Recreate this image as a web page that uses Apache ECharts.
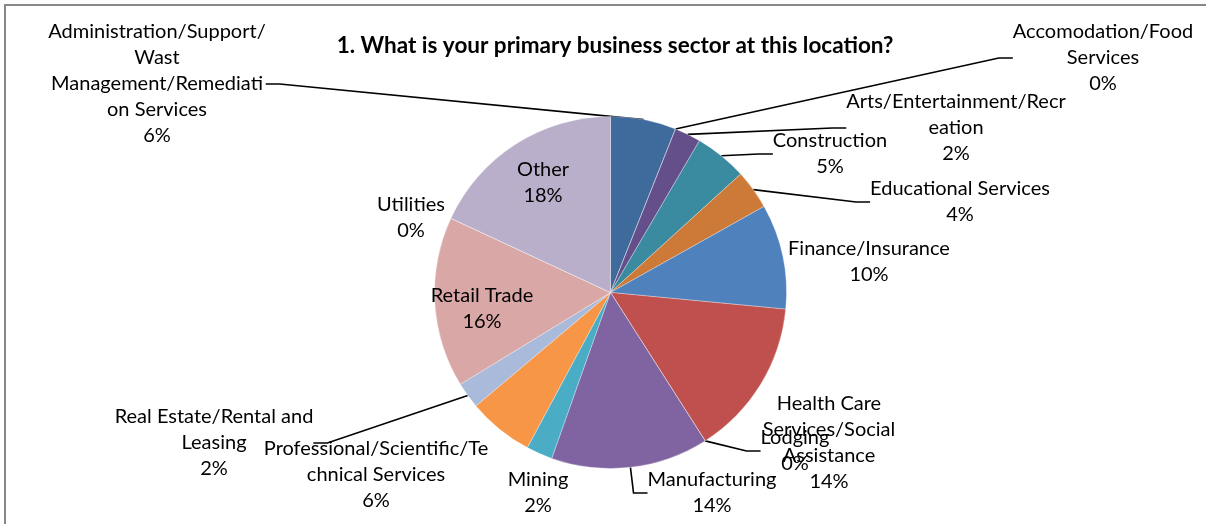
<!DOCTYPE html>
<html>
<head>
<meta charset="utf-8">
<title>Primary business sector</title>
<script src="https://cdn.jsdelivr.net/npm/echarts@6/dist/echarts.min.js"></script>
<style>
  html, body { margin: 0; padding: 0; background: #fff; }
  #chart { width: 1206px; height: 524px; }
</style>
</head>
<body>
<div id="chart"></div>
<script>
// categories, wrapped the way the labels appear
var sectors = [
  "Administration/Support/\nWast\nManagement/Remediati\non Services",
  "Accomodation/Food\nServices",
  "Arts/Entertainment/Recr\neation",
  "Construction",
  "Educational Services",
  "Finance/Insurance",
  "Health Care\nServices/Social\nAssistance",
  "Lodging",
  "Manufacturing",
  "Mining",
  "Professional/Scientific/Te\nchnical Services",
  "Real Estate/Rental and\nLeasing",
  "Retail Trade",
  "Utilities",
  "Other"
];
// number of responses per sector
var responses = [5, 0, 2, 4, 3, 8, 12, 0, 12, 2, 5, 2, 13, 0, 15];

var sliceColors = [
  "#3f6a9c", "#9c3f3c", "#654f8a", "#3a8ba0", "#cd7a38",
  "#4f81bd", "#c0504d", "#9bbb59", "#8064a2", "#4bacc6",
  "#f79646", "#aabada", "#d9a7a6", "#c3d69b", "#b9afca"
];
// which labels keep a leader line
var withLine = [true, true, true, true, true, false, false, true, true, false, false, true, false, false, false];
// label centres (layout only)
var labelSpots = [
  [157, 84], [1103, 58], [956, 128], [830, 154], [960, 202],
  [869, 262], [829, 443], [795, 451], [712, 493], [538, 493],
  [376, 475], [214, 443], [482, 309], [411, 218], [543, 183]
];

var total = responses.reduce(function (a, b) { return a + b; }, 0);

var pieData = sectors.map(function (name, i) {
  return {
    name: name,
    value: responses[i],
    itemStyle: { color: sliceColors[i] },
    labelLine: { show: withLine[i] }
  };
});

var chart = echarts.init(document.getElementById("chart"));

var option = {
  backgroundColor: "#fff",
  animation: false,
  title: {
    text: "1. What is your primary business sector at this location?",
    left: 610,
    textAlign: "center",
    top: 29,
    textStyle: {
      fontFamily: "Lato",
      fontWeight: "bold",
      fontSize: 22.5,
      color: "#000"
    }
  },
  graphic: [
    {
      type: "rect",
      shape: { x: 5, y: 5, width: 1220, height: 540 },
      style: { fill: "none", stroke: "#888", lineWidth: 2 },
      silent: true
    }
  ],
  series: [
    {
      type: "pie",
      center: [610.5, 292.5],
      radius: 176,
      startAngle: 90,
      clockwise: true,
      avoidLabelOverlap: false,
      data: pieData,
      itemStyle: { borderWidth: 0.5, borderColor: "rgba(255,255,255,0.6)" },
      label: {
        show: true,
        position: "outside",
        fontFamily: "Lato",
        fontSize: 20,
        lineHeight: 26,
        color: "#000",
        align: "center",
        formatter: function (p) {
          return p.name + "\n" + Math.round(p.value / total * 100) + "%";
        }
      },
      labelLine: {
        length: 10,
        length2: 14,
        lineStyle: { color: "#000", width: 1.6 }
      },
      labelLayout: function (p) {
        var s = labelSpots[p.dataIndex];
        return { x: s[0], y: s[1], align: "center", verticalAlign: "middle" };
      },
      emphasis: { disabled: true }
    }
  ]
};

chart.setOption(option);
</script>
</body>
</html>
